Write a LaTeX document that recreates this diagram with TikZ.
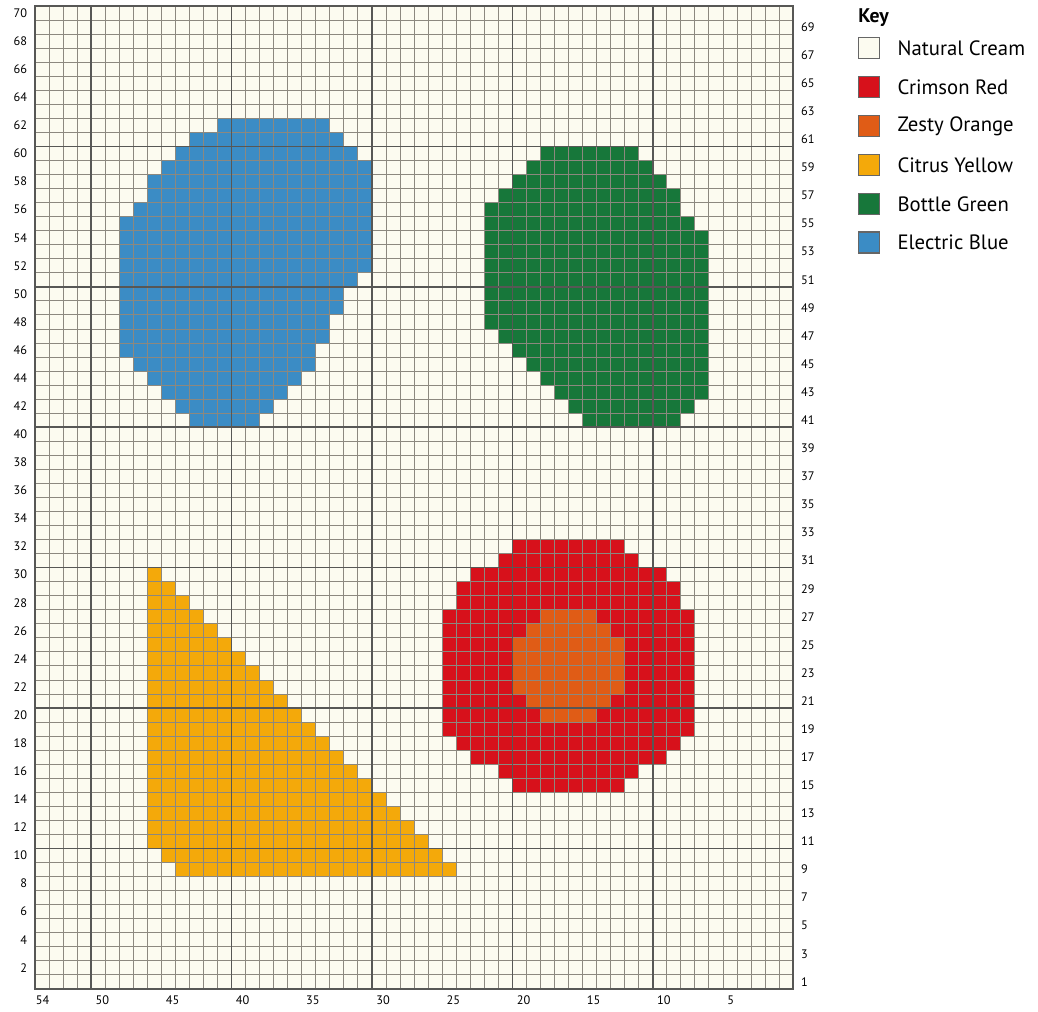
\documentclass[tikz,border=0pt]{standalone}
\usepackage{fontspec}
\setmainfont{PT Sans}
\definecolor{cCream}{HTML}{FCFBF0}
\definecolor{cRed}{HTML}{D7111B}
\definecolor{cOrange}{HTML}{E05C16}
\definecolor{cYellow}{HTML}{F4A90A}
\definecolor{cGreen}{HTML}{17773A}
\definecolor{cBlue}{HTML}{3B8CC5}
\definecolor{cGridLight}{HTML}{8C887F}
\definecolor{cGridDark}{HTML}{575755}
\usepackage{tikz}
\usetikzlibrary{positioning}

\begin{document}
\begin{tikzpicture}[x=0.4cm, y=0.4cm,
  minorline/.style={draw=cGridLight, line width=0.7pt},
  majorline/.style={draw=cGridDark, line width=1.3pt},
  chartframe/.style={draw=cGridDark, line width=2pt},
  rowlabel/.style={inner sep=0pt, font=\fontsize{10}{12}\selectfont},
  collabel/.style={inner sep=0pt, anchor=west, font=\fontsize{10}{12}\selectfont},
  swatch/.style={draw=black!60, line width=1.1pt, minimum size=17pt, inner sep=0pt, outer sep=0pt},
  keylabel/.style={inner sep=0pt, anchor=west, font=\fontsize{16.8}{20}\selectfont}]
\useasboundingbox (-2.49,-1.64) rectangle (71.44,70.43);
% cream ground of the chart
\fill[cCream] (0,0) rectangle (54,70);
% blue
\foreach \j/\a/\b in {61/13/20, 60/11/21, 59/10/22, 58/9/23, 57/8/23, 56/8/23, 55/7/23,
  54/6/23, 53/6/23, 52/6/23, 51/6/23, 50/6/22, 49/6/21, 48/6/21, 47/6/20, 46/6/20,
  45/6/19, 44/7/19, 43/8/18, 42/9/17, 41/10/16, 40/11/15}
  \fill[cBlue] (\a,\j) rectangle (\b+1,\j+1);
% green
\foreach \j/\a/\b in {59/36/42, 58/35/43, 57/34/44, 56/33/45, 55/32/45, 54/32/46,
  53/32/47, 52/32/47, 51/32/47, 50/32/47, 49/32/47, 48/32/47, 47/32/47, 46/33/47,
  45/34/47, 44/35/47, 43/36/47, 42/37/47, 41/38/46, 40/39/45}
  \fill[cGreen] (\a,\j) rectangle (\b+1,\j+1);
% red with orange centre
\foreach \j/\a/\b in {31/34/41, 30/33/42, 29/31/44, 28/30/45, 27/30/45, 26/29/46,
  25/29/46, 24/29/46, 23/29/46, 22/29/46, 21/29/46, 20/29/46, 19/29/46, 18/29/46,
  17/30/45, 16/31/44, 15/33/42, 14/34/41}
  \fill[cRed] (\a,\j) rectangle (\b+1,\j+1);
\foreach \j/\a/\b in {26/36/39, 25/35/40, 24/34/41, 23/34/41, 22/34/41, 21/34/41,
  20/35/40, 19/36/39}
  \fill[cOrange] (\a,\j) rectangle (\b+1,\j+1);
% yellow
\foreach \j in {10,...,29}
  \fill[cYellow] (8,\j) rectangle (38-\j,\j+1);
\fill[cYellow] (9,9) rectangle (29,10);
\fill[cYellow] (10,8) rectangle (30,9);
% grid
\foreach \i in {1,...,53} \draw[minorline] (\i,0) -- (\i,70);
\foreach \j in {1,...,69} \draw[minorline] (0,\j) -- (54,\j);
\foreach \i in {4,14,24,34,44} \draw[majorline] (\i,0) -- (\i,70);
\foreach \j in {10,20,...,60} \draw[majorline] (0,\j) -- (54,\j);
\draw[chartframe] (0,0) rectangle (54,70);
% row and column numbers
\foreach \r in {2,4,...,70} \node[rowlabel, anchor=east] (rowL\r) at (-0.55,\r-0.5) {\r};
\foreach \r in {1,3,...,69} \node[rowlabel, anchor=west] (rowR\r) at (54.55,\r-0.5) {\r};
\node[collabel] (col54) at (0.05,-0.8) {54};
\foreach \c in {50,45,...,5} \node[collabel] (col\c) at (54.3-\c,-0.8) {\c};
% key
\node[inner sep=0pt, anchor=west, font=\bfseries\fontsize{16}{19}\selectfont] (keyhead) at (58.62,69.2) {Key};
\foreach \n/\col/\name/\yy in {1/cCream/Natural Cream/67.0, 2/cRed/Crimson Red/64.22,
  3/cOrange/Zesty Orange/61.45, 4/cYellow/Citrus Yellow/58.68, 5/cGreen/Bottle Green/55.9,
  6/cBlue/Electric Blue/53.15} {
  \node[swatch, fill=\col] (sw\n) at (59.4,\yy) {};
  \node[keylabel, right=14.5pt of sw\n] (kl\n) {\name};
}
\end{tikzpicture}
\end{document}
